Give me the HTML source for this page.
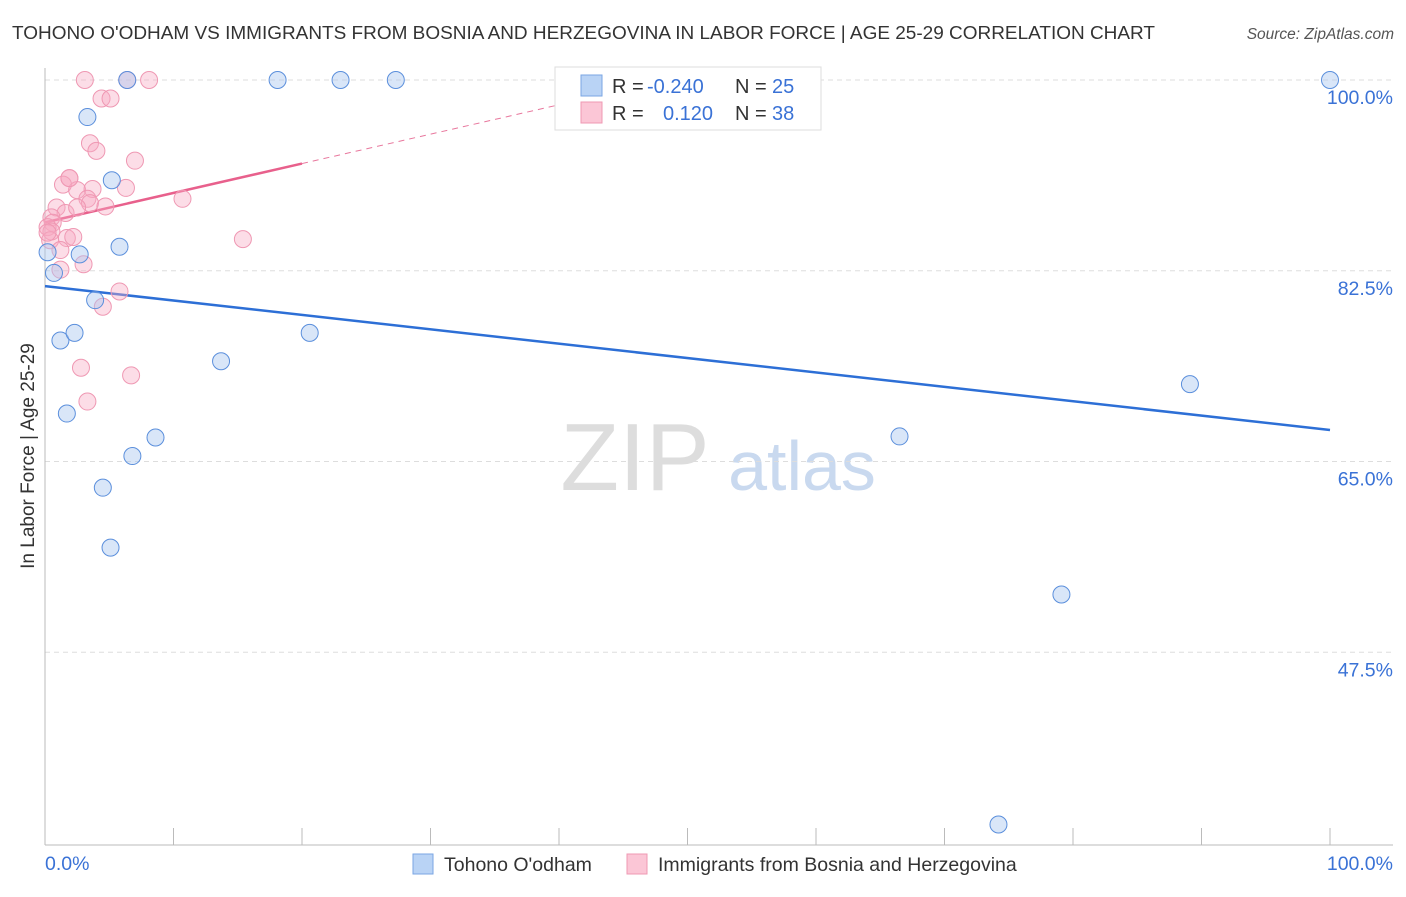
<!DOCTYPE html>
<html><head><meta charset="utf-8"><style>
body{margin:0;background:#fff;width:1406px;height:892px;overflow:hidden;font-family:"Liberation Sans",sans-serif}
svg text{font-family:"Liberation Sans",sans-serif}
</style></head><body>
<svg id="chart" width="1406" height="892">
<text x="12" y="39" font-size="18.5" fill="#333" textLength="1143" lengthAdjust="spacingAndGlyphs">TOHONO O'ODHAM VS IMMIGRANTS FROM BOSNIA AND HERZEGOVINA IN LABOR FORCE | AGE 25-29 CORRELATION CHART</text>
<text x="1394" y="39" font-size="15.5" fill="#555" font-style="italic" text-anchor="end">Source: ZipAtlas.com</text>
<text transform="translate(34,456) rotate(-90)" font-size="19" fill="#333" text-anchor="middle">In Labor Force | Age 25-29</text>
<g><text x="635" y="490" font-size="96" fill="#ddd" font-family="Liberation Serif" text-anchor="middle">ZIP</text><text x="802" y="490" font-size="70" fill="#c9d9ef" text-anchor="middle">atlas</text></g>
<g id="grid"></g><g id="axes"></g><g id="lines"></g><g id="pts"></g>
<g>
<rect x="555" y="67" width="266" height="63" fill="#fff" stroke="#ddd"/>
<rect x="581" y="75" width="21" height="21" fill="#b9d3f5" stroke="#7aa6e3"/>
<rect x="581" y="102" width="21" height="21" fill="#fbc6d6" stroke="#ef98b3"/>
<text y="93" font-size="20" fill="#333"><tspan x="612">R =</tspan><tspan x="647" fill="#3a72d6">-0.240</tspan><tspan x="735">N =</tspan><tspan x="772" fill="#3a72d6">25</tspan></text>
<text y="120" font-size="20" fill="#333"><tspan x="612">R =</tspan><tspan x="663" fill="#3a72d6">0.120</tspan><tspan x="735">N =</tspan><tspan x="772" fill="#3a72d6">38</tspan></text>
</g>
<g>
<rect x="413" y="854" width="20" height="20" fill="#b9d3f5" stroke="#7aa6e3"/>
<text x="444" y="871" font-size="19.5" fill="#333">Tohono O'odham</text>
<rect x="627" y="854" width="20" height="20" fill="#fbc6d6" stroke="#ef98b3"/>
<text x="658" y="871" font-size="19.5" fill="#333">Immigrants from Bosnia and Herzegovina</text>
</g>
</svg>
<script>
const blueX=[6.4,18.1,23.0,27.3,100,3.3,5.2,5.8,2.7,0.2,0.7,3.9,1.2,2.3,20.6,13.7,1.7,8.6,6.8,4.5,5.1,66.5,89.1,79.1,74.2];
const blueY=[100,100,100,100,100,96.6,90.8,84.7,84.0,84.2,82.3,79.8,76.1,76.8,76.8,74.2,69.4,67.2,65.5,62.6,57.1,67.3,72.1,52.8,31.7];
const pinkX=[3.1,6.4,8.1,4.4,5.1,3.5,4.0,7.0,1.9,1.4,2.5,3.7,6.3,3.3,3.5,4.7,10.7,0.9,1.6,2.5,0.5,0.6,0.2,0.5,1.7,2.2,0.4,1.2,15.4,3.0,1.2,5.8,4.5,2.8,6.7,3.3,0.2,1.9];
const pinkY=[100,100,100,98.3,98.3,94.2,93.5,92.6,91.0,90.4,89.9,90.0,90.1,89.1,88.7,88.4,89.1,88.3,87.8,88.3,87.4,86.9,86.5,86.1,85.5,85.6,85.3,84.4,85.4,83.1,82.6,80.6,79.2,73.6,72.9,70.5,86.0,91.0];
const yTicks=[100,82.5,65,47.5];
const yTickLabels=["100.0%","82.5%","65.0%","47.5%"];
const xTickLabels=["0.0%","100.0%"];
const NS="http://www.w3.org/2000/svg";
const X=v=>45+v*12.85, Y=v=>80+(100-v)*10.9;
function mk(p,t,a){const e=document.createElementNS(NS,t);for(const k in a)e.setAttribute(k,a[k]);p.appendChild(e);return e;}
const grid=document.getElementById('grid'),axes=document.getElementById('axes'),lines=document.getElementById('lines'),pts=document.getElementById('pts');
yTicks.forEach((t,i)=>{
 const l=mk(grid,'line',{x1:45,x2:1393,y1:Y(t),y2:Y(t),stroke:'#ddd','stroke-dasharray':'5,4'});
 
 
 const tx=mk(axes,'text',{x:1393,y:Y(t)+24,'font-size':19.5,fill:'#3a72d6','text-anchor':'end'});tx.textContent=yTickLabels[i];
 
 
});
mk(axes,'line',{x1:45,x2:45,y1:68,y2:845,stroke:'#bbb'});
mk(axes,'line',{x1:45,x2:1393,y1:845,y2:845,stroke:'#bbb'});
for(let i=1;i<=10;i++){const t=mk(axes,'line',{x1:X(i*10),x2:X(i*10),y1:828,y2:845,stroke:'#bbb'});
 
 }
const xl0=mk(axes,'text',{x:45,y:870,'font-size':19.5,fill:'#3a72d6'});xl0.textContent=xTickLabels[0];


const xl1=mk(axes,'text',{x:1393,y:870,'font-size':19.5,fill:'#3a72d6','text-anchor':'end'});xl1.textContent=xTickLabels[1];


function reg(xs,ys){const n=xs.length;let mx=0,my=0;for(let i=0;i<n;i++){mx+=xs[i];my+=ys[i];}mx/=n;my/=n;let sxy=0,sxx=0;for(let i=0;i<n;i++){sxy+=(xs[i]-mx)*(ys[i]-my);sxx+=(xs[i]-mx)**2;}const b=sxy/sxx;return [my-b*mx,b];}
const [ba,bb]=reg(blueX,blueY);
const bl=mk(lines,'line',{x1:X(0),y1:Y(ba),x2:X(100),y2:Y(ba+bb*100),stroke:'#2d6fd6','stroke-width':2.5});


const [pa,pb]=reg(pinkX,pinkY);
const pmax=20,pend=Math.min(100,(100-pa)/pb);
const pd=mk(lines,'line',{x1:X(pmax),y1:Y(pa+pb*pmax),x2:X(pend),y2:Y(pa+pb*pend),stroke:'#e8779d','stroke-width':1,'stroke-dasharray':'6,5'});


const pl=mk(lines,'line',{x1:X(0),y1:Y(pa),x2:X(pmax),y2:Y(pa+pb*pmax),stroke:'#e8608c','stroke-width':2.5});


pinkX.forEach((x,i)=>{const c=mk(pts,'circle',{cx:X(x),cy:Y(pinkY[i]),r:8.5,fill:'rgba(247,170,195,0.4)',stroke:'#ef98b3','stroke-width':1});
 
 });
blueX.forEach((x,i)=>{const c=mk(pts,'circle',{cx:X(x),cy:Y(blueY[i]),r:8.5,fill:'rgba(170,200,240,0.45)',stroke:'#5b8fdc','stroke-width':1});
 
 });
</script>
</body></html>
